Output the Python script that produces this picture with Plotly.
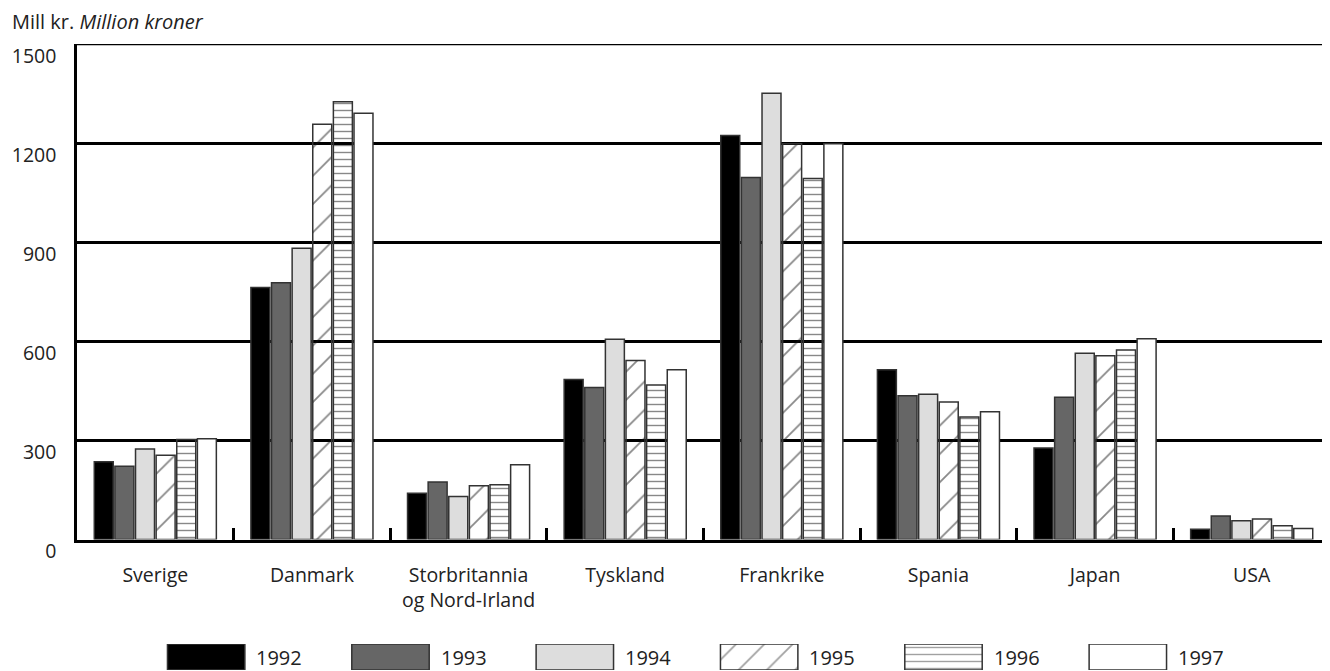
import plotly.graph_objects as go

countries = ["Sverige", "Danmark", "Storbritannia<br>og Nord-Irland", "Tyskland",
             "Frankrike", "Spania", "Japan", "USA"]
years = ["1992", "1993", "1994", "1995", "1996", "1997"]

v1992 = [235, 763, 140, 484, 1223, 514, 277, 31]
v1993 = [222, 777, 174, 460, 1096, 435, 431, 71]
v1994 = [274, 882, 130, 606, 1351, 440, 564, 57]
v1995 = [255, 1257, 163, 542, 1198, 416, 556, 62]
v1996 = [303, 1325, 166, 468, 1093, 371, 574, 42]
v1997 = [305, 1290, 226, 514, 1198, 387, 608, 33]
series = [v1992, v1993, v1994, v1995, v1996, v1997]

yticks = [0, 300, 600, 900, 1200, 1500]
swatch = [1, 1, 1, 1, 1, 1]

fills = ["#000000", "#666666", "#dddddd", "#111111", "#111111", "#ffffff"]
legend_fills = ["#000000", "#666666", "#dddddd", "#ffffff", "#ffffff", "#ffffff"]
shapes = ["", "", "", "/", "-", ""]
psize = [8, 8, 8, 20, 7, 8]
psolid = [0.3, 0.3, 0.3, 0.09, 0.2, 0.3]
outline = "#333333"

FONT = "Open Sans"
FS = 19.5
TXT = "#222222"
# page has an 8px body margin; the figure is sized to fill the rest of the window
OX, OY = 8, 8
W, H = 1330 - OX, 671 - OY


def fx(px):
    return (px - OX) / W


def fy(py):
    return 1 - (py - OY) / H


x0_px, top_px, bot_px = 77, 44, 539.5

fig = go.Figure()
for yr, vals, c, sh, sz, so in zip(years, series, fills, shapes, psize, psolid):
    marker = dict(color=c, line=dict(color=outline, width=1.5))
    if sh:
        marker["pattern"] = dict(shape=sh, size=sz, solidity=so,
                                 fgcolor="#111111", bgcolor="rgba(0,0,0,0)")
    fig.add_trace(go.Bar(x=countries, y=vals, name=yr, marker=marker,
                         xaxis="x", yaxis="y", showlegend=False))

# legend swatches drawn as bars on a hidden axis
fig.add_trace(go.Bar(
    x=years, y=swatch, xaxis="x2", yaxis="y2", showlegend=False, width=0.42,
    marker=dict(color=legend_fills, line=dict(color=outline, width=1.5),
                pattern=dict(shape=shapes, size=psize, solidity=psolid,
                             fillmode="overlay", fgcolor="#111111")),
    hoverinfo="skip"))

annotations = [
    dict(text="Mill kr. <i>Million kroner</i>", xref="paper", yref="paper",
         x=fx(10), y=fy(21), xanchor="left", yanchor="middle", showarrow=False,
         font=dict(family=FONT, size=20, color=TXT)),
]
for i, yr in enumerate(years):
    annotations.append(dict(text=yr, xref="x2", yref="paper", x=i, xshift=48,
                            y=fy(657), xanchor="left", yanchor="middle",
                            showarrow=False,
                            font=dict(family=FONT, size=20, color=TXT)))

fig.update_layout(
    width=W, height=H,
    margin=dict(l=0, r=0, t=0, b=0, pad=0, autoexpand=False),
    paper_bgcolor="white", plot_bgcolor="white",
    barmode="group", bargap=0.21, bargroupgap=0.08,
    font=dict(family=FONT, size=FS, color=TXT),
    xaxis=dict(domain=[fx(x0_px), 1], anchor="y", type="category", automargin=False,
               showline=True, linecolor="black", linewidth=2.5,
               ticks="inside", tickson="boundaries", ticklen=12, tickwidth=2.5,
               tickcolor="black", showgrid=False, ticklabelstandoff=16,
               tickfont=dict(family=FONT, size=FS, color=TXT)),
    yaxis=dict(domain=[fy(bot_px), fy(top_px)], anchor="x", automargin=False,
               range=[0, 1500], tickvals=yticks, ticktext=[str(t) for t in yticks],
               showgrid=True, gridcolor="black", gridwidth=2.5,
               showline=True, linecolor="black", linewidth=2.5,
               zeroline=False, ticks="", ticklabelstandoff=14,
               ticklabelshift=12,
               tickfont=dict(family=FONT, size=FS, color=TXT)),
    xaxis2=dict(domain=[fx(114), fx(1220)], anchor="y2", type="category",
                categoryorder="array", categoryarray=years, range=[-0.5, 5.5],
                automargin=False,
                showline=False, showgrid=False, showticklabels=False,
                ticks="", zeroline=False),
    yaxis2=dict(domain=[fy(670), fy(644)], anchor="x2", range=[0, 1], automargin=False,
                showline=False, showgrid=False, showticklabels=False,
                ticks="", zeroline=False),
    annotations=annotations,
    showlegend=False,
)

fig.add_shape(type="line", xref="paper", yref="y", x0=fx(x0_px), x1=1,
              y0=1500, y1=1500, line=dict(color="black", width=2.5), layer="below")

fig.write_html("out.html")
